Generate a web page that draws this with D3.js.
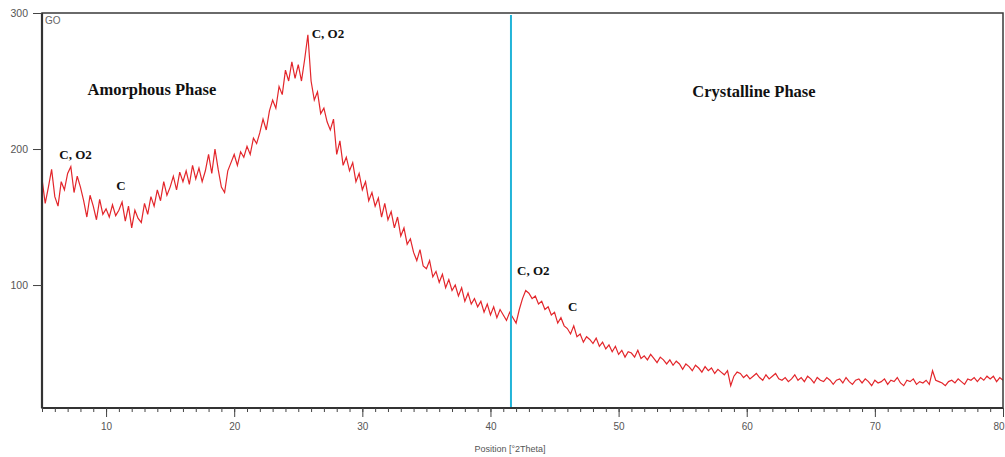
<!DOCTYPE html>
<html>
<head>
<meta charset="utf-8">
<script src="https://cdn.jsdelivr.net/npm/d3@7"></script>
<style>
  body { margin: 0; background: #fff; }
  svg { display: block; }
</style>
</head>
<body>
<svg id="chart" width="1005" height="457"></svg>
<script>
// intensity counts, 2Theta from 5 to 80 in steps of 0.25
const xStart = 5, xStep = 0.25;
const counts = [
  178, 160, 172, 185,  165, 158, 176, 170,  182, 187, 168, 180,  172, 162, 150, 166,
  158, 148, 163, 152,  156, 150, 159, 151,  155, 161, 147, 158,  142, 155, 149, 146,
  160, 152, 165, 158,  170, 162, 176, 166,  172, 180, 170, 183,  176, 184, 174, 188,
  178, 186, 176, 184,  196, 182, 200, 185,  172, 168, 184, 190,  196, 188, 198, 194,
  202, 196, 208, 204,  212, 222, 214, 228,  236, 230, 246, 240,  258, 250, 264, 252,
  262, 250, 266, 284,  250, 236, 242, 226,  230, 220, 214, 222,  196, 206, 188, 194,
  184, 190, 176, 182,  170, 176, 162, 168,  158, 164, 150, 160,  148, 154, 142, 150,
  136, 142, 130, 134,  124, 118, 126, 114,  112, 118, 106, 110,  102, 108, 98, 104,
  96, 100, 92, 98,  88, 94, 86, 90,  84, 88, 80, 86,  78, 84, 76, 82,
  78, 74, 80, 76,  72, 82, 90, 96,  94, 90, 92, 86,  88, 82, 84, 78,
  80, 72, 76, 70,  68, 64, 70, 62,  64, 58, 62, 60,  57, 61, 55, 58,
  53, 56, 51, 55,  49, 52, 47, 51,  50, 47, 52, 46,  48, 45, 49, 46,
  43, 47, 45, 42,  45, 41, 44, 42,  38, 42, 40, 37,  41, 39, 36, 40,
  37, 39, 35, 38,  36, 34, 37, 26,  33, 36, 35, 32,  34, 31, 33, 35,
  32, 30, 34, 31,  33, 35, 31, 30,  32, 29, 31, 34,  30, 32, 29, 33,
  31, 28, 32, 30,  29, 32, 30, 27,  30, 31, 28, 32,  29, 27, 30, 31,
  28, 31, 29, 26,  30, 28, 29, 31,  27, 30, 29, 32,  28, 26, 30, 29,
  31, 27, 29, 28,  30, 27, 37, 30,  29, 28, 26, 29,  30, 28, 31, 29,
  27, 31, 30, 32,  29, 32, 30, 33,  31, 33, 29, 32,  30
];
const xTicks = [10, 20, 30, 40, 50, 60, 70, 80];
const yTicks = [100, 200, 300];
const phaseBoundary = 41.6;
const phases = [
  {text: "Amorphous Phase", x: 8.55, y: 239.5},
  {text: "Crystalline Phase", x: 55.75, y: 238}
];
const peaks = [
  {text: "C, O2", x: 6.35, y: 192.5},
  {text: "C", x: 10.8, y: 170},
  {text: "C, O2", x: 26.05, y: 281.5},
  {text: "C, O2", x: 42.08, y: 107.4},
  {text: "C", x: 46.05, y: 81}
];

const svg = d3.select("#chart");
const margin = {left: 42, right: 2, top: 13, bottom: 49};
const width = 1005 - margin.left - margin.right;
const height = 457 - margin.top - margin.bottom;

const x = d3.scaleLinear().domain([5, 80]).range([0, width]);
const y = d3.scaleLinear().domain([9.6, 300]).range([height, 0]);

const g = svg.append("g").attr("transform", `translate(${margin.left},${margin.top})`);

const data = counts.map((v, i) => ({x: xStart + i * xStep, y: v}));

//谱线
g.append("path")
  .datum(data)
  .attr("fill", "none")
  .attr("stroke", "#e3262b")
  .attr("stroke-width", 1.2)
  .attr("d", d3.line().x(d => x(d.x)).y(d => y(d.y)));

// phase boundary
g.append("line")
  .attr("x1", x(phaseBoundary)).attr("x2", x(phaseBoundary))
  .attr("y1", 2).attr("y2", height)
  .attr("stroke", "#22b4d8")
  .attr("stroke-width", 2);

// frame
g.append("rect")
  .attr("width", width).attr("height", height)
  .attr("fill", "none")
  .attr("stroke", "#3a3a3a")
  .attr("stroke-width", 1.5);
g.append("line")
  .attr("x1", 0).attr("x2", 0).attr("y1", 0).attr("y2", height)
  .attr("stroke", "#333").attr("stroke-width", 2.2);
g.append("line")
  .attr("x1", 0).attr("x2", width).attr("y1", height).attr("y2", height)
  .attr("stroke", "#333").attr("stroke-width", 2.2);

// x axis
const xAxis = g.append("g").attr("transform", `translate(0,${height})`);
xAxis.call(d3.axisBottom(x).tickValues(d3.range(5, 81, 1)).tickSize(4).tickFormat(""));
xAxis.append("g").call(d3.axisBottom(x).tickValues(xTicks).tickSize(9).tickPadding(6));
xAxis.selectAll(".domain").remove();
xAxis.selectAll("line").attr("stroke", "#444").attr("stroke-width", 1);
xAxis.selectAll("text")
  .attr("fill", "#555")
  .style("font-family", "Liberation Sans, Arial, sans-serif")
  .style("font-size", "10px");
// last label sits on the right edge
xAxis.selectAll("text").filter(d => d === 80).attr("text-anchor", "end").attr("dx", "1px");

// y axis
const yAxis = g.append("g");
yAxis.call(d3.axisLeft(y).tickValues(yTicks).tickSize(9).tickPadding(5));
yAxis.selectAll(".domain").remove();
yAxis.selectAll("line").attr("stroke", "#444");
yAxis.selectAll("text")
  .attr("fill", "#555")
  .attr("dy", "0.3em")
  .style("font-family", "Liberation Sans, Arial, sans-serif")
  .style("font-size", "10.5px");

// labels
g.append("text")
  .attr("x", 3).attr("y", 11)
  .attr("fill", "#666")
  .style("font-family", "Liberation Sans, Arial, sans-serif")
  .style("font-size", "10px")
  .text("GO");

svg.append("text")
  .attr("x", margin.left + x(phaseBoundary) - 1)
  .attr("y", 452)
  .attr("text-anchor", "middle")
  .attr("fill", "#555")
  .style("font-family", "Liberation Sans, Arial, sans-serif")
  .style("font-size", "9px")
  .text("Position [°2Theta]");

g.selectAll(".phase")
  .data(phases)
  .enter()
  .append("text")
  .attr("class", "phase")
  .attr("x", d => x(d.x))
  .attr("y", d => y(d.y))
  .attr("fill", "#111")
  .style("font-family", "Liberation Serif, Times New Roman, serif")
  .style("font-weight", "bold")
  .style("font-size", "16.5px")
  .text(d => d.text);

g.selectAll(".peak")
  .data(peaks)
  .enter()
  .append("text")
  .attr("class", "peak")
  .attr("x", d => x(d.x))
  .attr("y", d => y(d.y))
  .attr("fill", "#111")
  .style("font-family", "Liberation Serif, Times New Roman, serif")
  .style("font-weight", "bold")
  .style("font-size", "13px")
  .text(d => d.text);
</script>
</body>
</html>
